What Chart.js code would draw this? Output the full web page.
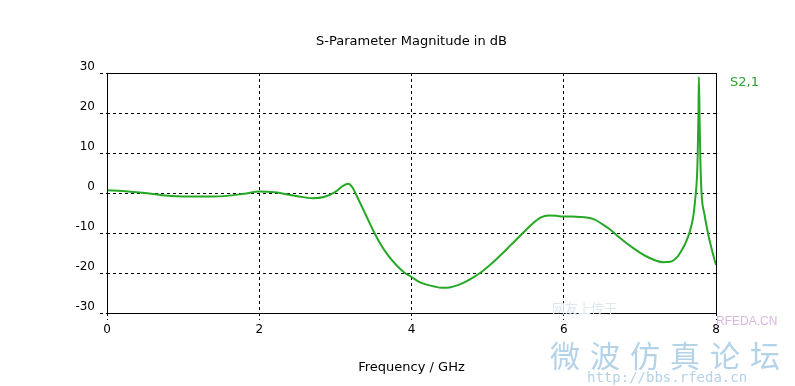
<!DOCTYPE html>
<html>
<head>
<meta charset="utf-8">
<script src="https://cdn.jsdelivr.net/npm/chart.js@4/dist/chart.umd.min.js"></script>
<style>
  body { margin: 0; background: #fff; }
  #wrap { position: relative; width: 795px; height: 386px; overflow: hidden; }
  .wm { position: absolute; white-space: nowrap; pointer-events: none; }
</style>
</head>
<body>
<div id="wrap">
  <canvas id="chart" width="795" height="386"></canvas>
  <div class="wm" style="left:552px;top:298px;font:13px 'Noto Sans CJK SC';color:#dde8f0;">网友上传于</div>
  <div class="wm" style="left:716px;top:314px;font:12px 'Liberation Sans';color:#d8b8e0;">RFEDA.CN</div>
  <div class="wm" style="left:550px;top:332px;font:30px 'Noto Sans CJK SC';color:#b4d2e8;letter-spacing:10px;">微波仿真论坛</div>
  <div class="wm" style="left:587px;top:369px;font:14px 'DejaVu Sans Mono';color:#b4d2e8;">http://bbs.rfeda.cn</div>
</div>
<script>
const titleText = 'S-Parameter Magnitude in dB';
const xTitle = 'Frequency / GHz';
const seriesName = 'S2,1';

const xTicks = [0, 2, 4, 6, 8];
const yTicks = [-30, -20, -10, 0, 10, 20, 30];

// frequency in GHz
const freqs = [
    0, 0.2, 0.5, 0.8, 1.0, 1.4, 1.8, 2.0, 2.2, 2.5, 2.7, 2.85, 3.0, 3.1, 3.17, 3.22, 3.3,
    3.4, 3.5, 3.6, 3.7, 3.8, 3.9, 4.0, 4.1, 4.2, 4.3, 4.4, 4.5, 4.6, 4.7, 4.8, 4.9,
    5.0, 5.1, 5.2, 5.3, 5.4, 5.5, 5.6, 5.7, 5.8, 5.9, 6.0, 6.1, 6.2, 6.3, 6.4, 6.5,
    6.6, 6.7, 6.8, 6.9, 7.0, 7.1, 7.2, 7.3, 7.4, 7.5, 7.55, 7.6, 7.65, 7.7, 7.73,
    7.75, 7.76, 7.77, 7.775, 7.785, 7.795, 7.81, 7.85, 7.9, 7.95, 8.0
];
// S2,1 magnitude in dB
const s21 = [
    0.7, 0.5, 0.0, -0.7, -0.9, -0.9, -0.2, 0.4, 0.2, -0.8, -1.3, -1.0, 0.3, 1.8, 2.3, 1.5, -1.5,
    -5.5, -9.5, -13, -15.8, -18, -19.8, -21, -22.2, -22.9, -23.4, -23.7, -23.6, -23.1, -22.3, -21.2, -20,
    -18.5, -16.8, -15, -13.1, -11.2, -9.3, -7.5, -6.1, -5.6, -5.7, -5.9, -5.9, -6.0, -6.1, -6.6, -7.7,
    -9.0, -10.6, -12.2, -13.6, -14.9, -16.0, -16.8, -17.3, -17.2, -15.8, -14.3, -12.5, -10, -6, -1,
    4, 10, 20, 29, 18, 8, 0, -5.5, -10.5, -14.5, -18
];

const font = 'DejaVu Sans';

const framePlugin = {
    id: 'frame',
    afterDraw(chart) {
        const { ctx, chartArea: a } = chart;
        ctx.save();
        ctx.strokeStyle = '#000';
        ctx.lineWidth = 1;
        ctx.setLineDash([]);
        ctx.strokeRect(a.left + 0.5, a.top + 0.5, a.right - a.left, a.bottom - a.top);
        const cx = (a.left + a.right) / 2;
        ctx.fillStyle = '#000';
        ctx.textAlign = 'center';
        ctx.textBaseline = 'middle';
        ctx.font = '13px ' + font;
        ctx.fillText(titleText, cx, 42);
        ctx.fillText(xTitle, cx, 368);
        ctx.fillStyle = '#2fa02f';
        ctx.textAlign = 'left';
        ctx.fillText(seriesName, a.right + 14, 83);
        ctx.restore();
    }
};

// hide grid lines that sit on the frame, the frame is drawn solid by the plugin
const gridColor = (c, lo, hi) => (c.tick && (c.tick.value === lo || c.tick.value === hi)) ? 'rgba(0,0,0,0)' : '#000';

new Chart(document.getElementById('chart'), {
    type: 'line',
    data: {
        datasets: [{
            label: seriesName,
            data: freqs.map((f, i) => ({ x: f, y: s21[i] })),
            borderColor: '#26a826',
            borderWidth: 2,
            pointRadius: 0,
            cubicInterpolationMode: 'monotone',
            fill: false
        }]
    },
    options: {
        responsive: false,
        animation: false,
        events: [],
        layout: { padding: { left: 0, right: 79, top: 73, bottom: 0 } },
        plugins: { legend: { display: false }, title: { display: false }, tooltip: { enabled: false } },
        scales: {
            x: {
                type: 'linear',
                min: 0, max: 8,
                afterBuildTicks: s => { s.ticks = xTicks.map(v => ({ value: v })); },
                afterFit: s => { s.height = 73; },
                border: { display: false, dash: [3, 3] },
                grid: {
                    color: c => gridColor(c, 0, 8),
                    tickColor: '#000',
                    tickBorderDash: [3, 3],
                    tickLength: 7
                },
                ticks: { color: '#000', font: { family: font, size: 12 }, padding: 3, maxRotation: 0 }
            },
            y: {
                min: -30, max: 30,
                afterBuildTicks: s => { s.ticks = yTicks.map(v => ({ value: v })); },
                afterFit: s => { s.width = 107; },
                border: { display: false, dash: [3, 3] },
                grid: {
                    color: c => gridColor(c, -30, 30),
                    tickColor: '#000',
                    tickBorderDash: [3, 3],
                    tickLength: 7
                },
                ticks: { color: '#000', font: { family: font, size: 12 }, padding: 5, labelOffset: -6 }
            }
        }
    },
    plugins: [framePlugin]
});
</script>
</body>
</html>
